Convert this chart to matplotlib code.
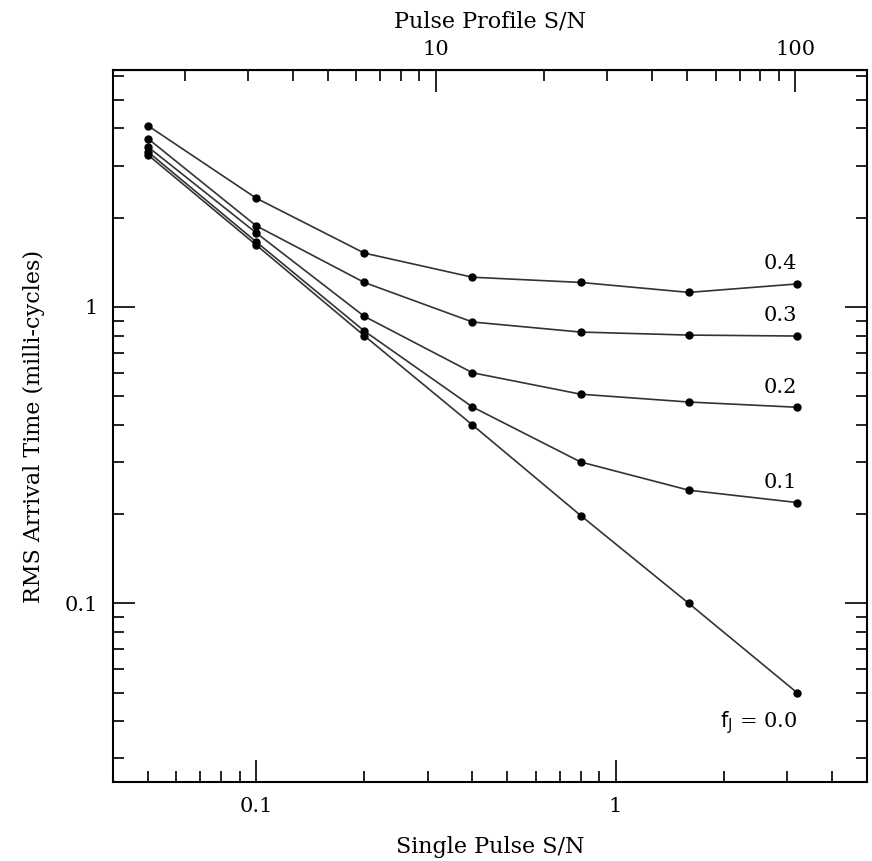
import matplotlib
matplotlib.use('Agg')
import matplotlib.pyplot as plt
import numpy as np

plt.rcParams['font.family'] = 'DejaVu Serif'

# single pulse S/N
snr = [0.05, 0.1, 0.2, 0.4, 0.8, 1.6, 3.2]
# rms arrival time (milli-cycles) for each jitter fraction f_J
rms_00 = [3.26, 1.62, 0.80, 0.40, 0.198, 0.100, 0.050]
rms_01 = [3.34, 1.66, 0.83, 0.46, 0.300, 0.241, 0.219]
rms_02 = [3.47, 1.78, 0.93, 0.60, 0.508, 0.478, 0.459]
rms_03 = [3.70, 1.88, 1.21, 0.89, 0.823, 0.804, 0.798]
rms_04 = [4.09, 2.33, 1.52, 1.26, 1.21, 1.12, 1.196]
labels = ['$\\mathrm{f_J}$ = 0.0', '0.1', '0.2', '0.3', '0.4']
nscale = np.sqrt(1000.)  # profile S/N = single pulse S/N * sqrt(N)

fig = plt.figure(figsize=(8.72, 8.61), dpi=100)
ax = fig.add_axes([0.1296, 0.0918, 0.8644, 0.8269])

for i, r in enumerate([rms_00, rms_01, rms_02, rms_03, rms_04]):
    ax.plot(snr, r, '-', color='#333333', lw=1.2, marker='o', ms=5,
            mfc='black', mec='black')
    if i == 0:
        ax.text(snr[-1], r[-1]*0.79, labels[i], ha='right', va='center', fontsize=15)
    else:
        ax.text(snr[-1], r[-1]*1.17, labels[i], ha='right', va='center', fontsize=15)

ax.set_xscale('log')
ax.set_yscale('log')
ax.set_xlim(0.04, 5.0)
ax.set_ylim(0.025, 6.3)
ax.set_xticks([0.1, 1])
ax.set_xticklabels(['0.1', '1'])
ax.set_yticks([0.1, 1])
ax.set_yticklabels(['0.1', '1'])
ax.tick_params(which='both', direction='in', right=True, labelsize=15, width=1.2, pad=11)
ax.tick_params(which='major', length=16)
ax.tick_params(which='minor', length=8)
for s in ax.spines.values():
    s.set_linewidth(1.5)
ax.set_xlabel('Single Pulse S/N', fontsize=16, labelpad=14)
ax.set_ylabel('RMS Arrival Time (milli-cycles)', fontsize=16, labelpad=14)

top = ax.secondary_xaxis('top', functions=(lambda x: x*nscale, lambda x: x/nscale))
top.set_xticks([10, 100])
top.set_xticklabels(['10', '100'])
top.tick_params(which='both', direction='in', labelsize=15, width=1.2, pad=8)
top.tick_params(which='major', length=16)
top.tick_params(which='minor', length=8)
top.set_xlabel('Pulse Profile S/N', fontsize=16, labelpad=9)

plt.savefig('out.png', dpi=100)
